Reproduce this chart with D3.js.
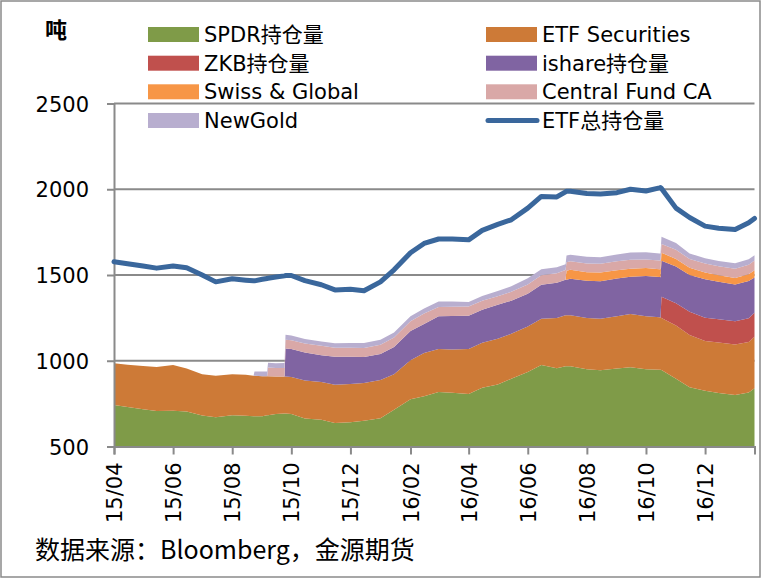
<!DOCTYPE html>
<html>
<head>
<meta charset="utf-8">
<script src="https://cdn.jsdelivr.net/npm/d3@7.9.0/dist/d3.min.js"></script>
<style>
  body { margin: 0; background: #fff; }
  svg { display: block; }
  text { font-family: "DejaVu Sans", "Noto Sans CJK SC", sans-serif; }
</style>
</head>
<body>
<svg id="chart" width="761" height="578"></svg>
<script>
// dates (semi-monthly, plus the days where a fund enters the stack)
const dates = [
  '2015-04-01','2015-04-15','2015-05-01','2015-05-15','2015-06-01','2015-06-15','2015-07-01','2015-07-15',
  '2015-08-01','2015-08-15','2015-08-23','2015-08-24','2015-09-01','2015-09-06','2015-09-07','2015-09-15',
  '2015-09-24','2015-09-25','2015-10-01','2015-10-15','2015-11-01','2015-11-15','2015-12-01','2015-12-15',
  '2016-01-01','2016-01-15','2016-02-01','2016-02-15','2016-03-01','2016-03-15','2016-04-01','2016-04-15',
  '2016-05-01','2016-05-15','2016-06-01','2016-06-15','2016-07-01','2016-07-10','2016-07-11','2016-07-15',
  '2016-08-01','2016-08-15','2016-09-01','2016-09-15','2016-10-01','2016-10-15','2016-10-16','2016-10-17',
  '2016-11-01','2016-11-15','2016-12-01','2016-12-15','2017-01-01','2017-01-15','2017-01-21'
];

// holdings in tonnes
const spdr = [742,730,717,707,709,704,681,671,682,679,676,676,676,682,682,689,692,692,689,663,656,637,641,650,
  665,715,775,793,818,813,806,842,862,895,935,975,956,968,968,968,950,944,955,962,950,948,947,946,895,845,825,812,800,815,840];
const etfSec = [243,247,252,257,266,251,241,242,240,240,236,236,234,228,228,219,216,216,216,222,220,223,224,220,
  223,207,228,252,250,253,262,263,266,263,265,270,294,297,297,297,300,301,305,310,310,305,305,304,310,305,290,294,295,295,300];
const zkb = [0,0,0,0,0,0,0,0,0,0,0,0,0,0,0,0,0,0,0,0,0,0,0,0,
  0,0,0,0,0,0,0,0,0,0,0,0,0,0,0,0,0,0,0,0,0,0,0,123,130,136,136,136,136,138,140];
const ishare = [0,0,0,0,0,0,0,0,0,0,0,0,0,0,0,0,0,164,163,163,156,164,159,152,
  152,158,170,170,191,195,194,193,198,192,190,198,205,208,208,213,216,219,220,218,234,235,235,210,215,214,224,219,214,217,206];
const swiss = [0,0,0,0,0,0,0,0,0,0,0,0,0,0,0,0,0,0,0,0,0,0,0,0,
  0,0,0,0,0,0,0,0,0,0,0,0,0,0,52,52,50,50,48,47,47,46,46,47,44,43,40,38,38,40,42];
const centralFund = [0,0,0,0,0,0,0,0,0,0,0,0,0,0,50,50,50,50,51,52,55,52,52,53,
  54,56,58,60,55,54,54,52,50,52,55,55,55,56,50,50,51,51,52,52,50,50,50,51,53,50,52,52,53,55,57];
const newGold = [0,0,0,0,0,0,0,0,0,0,0,26,27,27,28,28,29,29,28,27,25,26,28,29,
  29,29,29,30,32,30,26,28,30,32,36,36,35,34,38,38,39,39,40,42,42,42,42,42,39,33,30,31,33,32,30];
const etfTotal = [1577,1566,1552,1540,1553,1542,1500,1460,1478,1470,1466,1466,1475,1480,1481,1488,1495,1497,1497,1467,1443,1413,1417,1408,
  1460,1530,1630,1684,1710,1710,1705,1760,1795,1822,1890,1958,1955,1985,1988,1988,1975,1972,1980,2000,1990,2008,2010,2005,1890,1835,1785,1773,1765,1805,1830];

const seriesKeys = ['spdr','etfSec','zkb','ishare','swiss','centralFund','newGold'];
const seriesNames = ['SPDR持仓量','ETF Securities','ZKB持仓量','ishare持仓量','Swiss & Global','Central Fund CA','NewGold'];
const seriesColors = ['#7f9b48','#cd7a37','#c0504d','#8064a2','#f79646','#d9a8a7','#b8aecf'];
const lineName = 'ETF总持仓量';
const lineColor = '#3a679c';
const yTicks = [500,1000,1500,2000,2500];

const parse = d3.timeParse('%Y-%m-%d');
const rows = dates.map((d, i) => ({
  date: parse(d), spdr: spdr[i], etfSec: etfSec[i], zkb: zkb[i], ishare: ishare[i],
  swiss: swiss[i], centralFund: centralFund[i], newGold: newGold[i], total: etfTotal[i]
}));

const svg = d3.select('#chart');
const W = 761, H = 578;
const plotL = 114, plotR = 754.5, plotT = 103.5, plotB = 446.5;
const gray = '#8a8a8a';

svg.append('rect').attr('x', 1).attr('y', 1).attr('width', W - 2).attr('height', H - 2)
  .attr('fill', '#fff').attr('stroke', gray).attr('stroke-width', 1.5);

const x = d3.scaleTime().domain(d3.extent(rows, d => d.date)).range([plotL, plotR]);
const y = d3.scaleLinear().domain([500, 2500]).range([plotB, plotT]);

// gridlines
svg.append('g').selectAll('line').data(yTicks.slice(1)).join('line')
  .attr('x1', plotL).attr('x2', plotR)
  .attr('y1', d => y(d)).attr('y2', d => y(d))
  .attr('stroke', gray).attr('stroke-width', 2);

// stacked areas (stack starts at zero, axis starts at 500)
const layers = d3.stack().keys(seriesKeys)(rows);
const area = d3.area()
  .x(d => x(d.data.date))
  .y0(d => y(Math.max(d[0], 500)))
  .y1(d => y(Math.max(d[1], 500)));
svg.append('g')
  .selectAll('path').data(layers).join('path')
  .attr('d', area)
  .attr('fill', (d, i) => seriesColors[i]);

// axes
const yAxis = svg.append('g').attr('transform', `translate(${plotL},0)`)
  .call(d3.axisLeft(y).tickValues(yTicks).tickSize(7).tickFormat(d3.format('d')));
const xTickValues = d3.timeMonth.range(parse('2015-04-01'), parse('2017-01-01'), 2);
const xAxis = svg.append('g').attr('transform', `translate(0,${plotB})`)
  .call(d3.axisBottom(x).tickValues(xTickValues).tickSize(8).tickFormat(d3.timeFormat('%y/%m')));
[yAxis, xAxis].forEach(g => {
  g.select('.domain').attr('stroke', gray).attr('stroke-width', 2);
  g.selectAll('.tick line').attr('stroke', gray).attr('stroke-width', 2);
  g.selectAll('text').attr('fill', '#000').style('font-size', '21px')
    .style('font-family', '"DejaVu Sans", sans-serif');
});
yAxis.selectAll('text').attr('x', -25).attr('dy', '0.36em');
xAxis.selectAll('text')
  .attr('transform', 'rotate(-90)')
  .attr('text-anchor', 'end')
  .attr('x', -16).attr('y', 0).attr('dy', '0.36em');

// total line
const line = d3.line().x(d => x(d.date)).y(d => y(d.total));
svg.append('path').datum(rows)
  .attr('d', line).attr('fill', 'none')
  .attr('stroke', lineColor).attr('stroke-width', 5)
  .attr('stroke-linejoin', 'round').attr('stroke-linecap', 'round');

// legend
const legendItems = seriesNames.map((n, i) => ({ name: n, color: seriesColors[i], type: 'area' }))
  .concat([{ name: lineName, color: lineColor, type: 'line' }]);
const colX = [148, 486];
const rowY = [34.5, 63.2, 91.8, 120.5];
legendItems.forEach((item, i) => {
  const gx = colX[i % 2], gy = rowY[Math.floor(i / 2)];
  const g = svg.append('g').attr('transform', `translate(${gx},${gy})`);
  if (item.type === 'area') {
    g.append('rect').attr('x', 0).attr('y', -7.5).attr('width', 51).attr('height', 15).attr('fill', item.color);
  } else {
    g.append('line').attr('x1', 2).attr('x2', 51).attr('y1', 0).attr('y2', 0)
      .attr('stroke', item.color).attr('stroke-width', 5).attr('stroke-linecap', 'round');
  }
  g.append('text').attr('x', 56).attr('dy', '0.36em').style('font-size', '21px').text(item.name);
});

// unit and source
svg.append('text').attr('x', 45).attr('y', 38)
  .style('font-family', '"Noto Sans CJK SC", sans-serif').style('font-size', '22px').style('font-weight', 'bold')
  .text('吨');
svg.append('text').attr('x', 35).attr('y', 559)
  .style('font-family', '"Noto Sans CJK SC", sans-serif').style('font-size', '25px')
  .text('数据来源：Bloomberg，金源期货');
</script>
</body>
</html>
